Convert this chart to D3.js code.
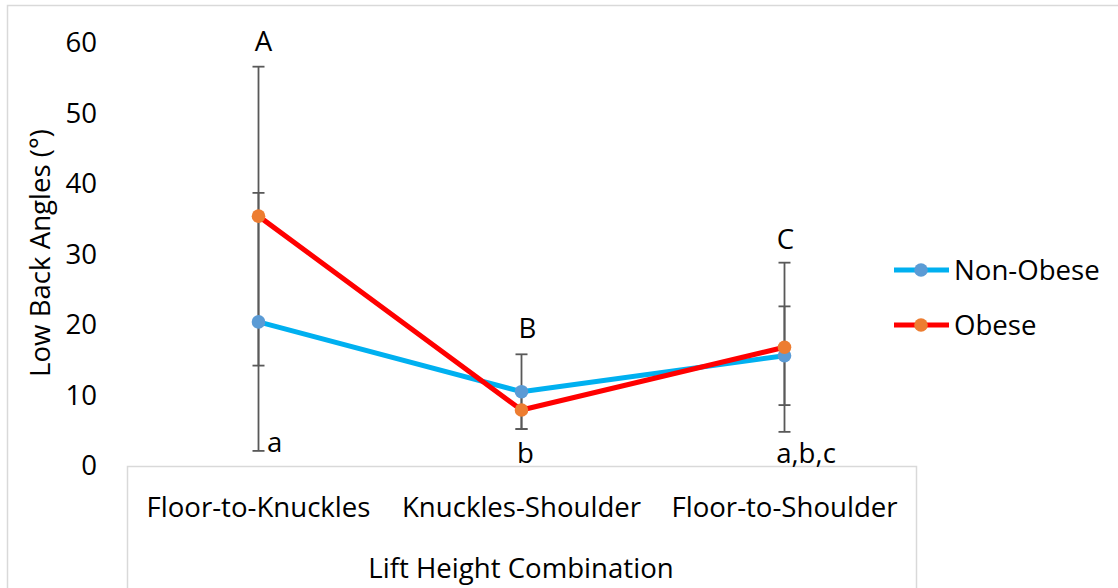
<!DOCTYPE html>
<html>
<head>
<meta charset="utf-8">
<script src="https://cdn.jsdelivr.net/npm/d3@7"></script>
<style>
  html, body { margin: 0; padding: 0; background: #fff; }
  svg { display: block; font-family: "Open Sans", Carlito, Calibri, sans-serif; }
</style>
</head>
<body>
<svg id="chart" width="1118" height="588"></svg>
<script>
// Lift height combinations on the category axis
const categories = ["Floor-to-Knuckles", "Knuckles-Shoulder", "Floor-to-Shoulder"];

// Mean low back angles (degrees) and their standard deviations
const nonObeseMeans = [20.3, 10.4, 15.5];
const nonObeseSD    = [18.3, 5.3, 7.0];
const obeseMeans    = [35.3, 7.8, 16.7];
const obeseSD       = [21.2, 2.7, 12.0];

// Significance letters above and below each group
const upperLetters = ["A", "B", "C"];
const lowerLetters = ["a", "b", "a,b,c"];

const yTicks = [0, 10, 20, 30, 40, 50, 60];

const seriesNames = ["Non-Obese", "Obese"];
const lineColors = ["#00B0F0", "#FF0000"];
const markerColors = ["#5B9BD5", "#ED7D31"];

const series = [
  { name: seriesNames[0], means: nonObeseMeans, sd: nonObeseSD, line: lineColors[0], marker: markerColors[0] },
  { name: seriesNames[1], means: obeseMeans, sd: obeseSD, line: lineColors[1], marker: markerColors[1] }
];

const svg = d3.select("#chart");
const FONT = 27.6;
const FAMILY = "\"Open Sans\", Carlito, Calibri, sans-serif";

// outer chart frame
svg.append("rect")
  .attr("x", 7.5).attr("y", 5.5)
  .attr("width", 1130).attr("height", 600)
  .attr("fill", "none").attr("stroke", "#d9d9d9").attr("stroke-width", 1.5);

const x = d3.scaleBand().domain(categories).range([127, 916]).padding(0);
const y = d3.scaleLinear().domain([0, 60]).range([465, 42]);
const cx = c => x(c) + x.bandwidth() / 2;

// y axis: labels only, no line or tick marks
const yAxis = svg.append("g")
  .attr("transform", "translate(99,0)")
  .call(d3.axisLeft(y).tickValues(yTicks).tickSize(0).tickPadding(2));
yAxis.select(".domain").remove();
yAxis.selectAll("text")
  .attr("font-size", FONT).attr("fill", "#000")
  .attr("font-family", FAMILY)
  .attr("dy", "0.36em");

// category axis drawn as an open table box
svg.append("path")
  .attr("d", `M127.5,${600}V466.5H916.5V${600}`)
  .attr("fill", "none").attr("stroke", "#d9d9d9").attr("stroke-width", 1.5);

const xAxis = svg.append("g")
  .attr("transform", "translate(0,466)")
  .call(d3.axisBottom(x).tickSize(0).tickPadding(0));
xAxis.select(".domain").remove();
xAxis.selectAll("text")
  .attr("font-size", FONT).attr("fill", "#000")
  .attr("font-family", FAMILY)
  .attr("dy", null).attr("y", 51);

// axis titles
svg.append("text")
  .attr("x", 521).attr("y", 578)
  .attr("text-anchor", "middle").attr("font-size", FONT)
  .text("Lift Height Combination");

svg.append("text")
  .attr("transform", "translate(50,253) rotate(-90)")
  .attr("text-anchor", "middle").attr("font-size", FONT)
  .text("Low Back Angles (°)");

// error bars
const capHalf = 6;
series.forEach(s => {
  const g = svg.append("g").attr("stroke", "#595959").attr("stroke-width", 1.8);
  categories.forEach((c, i) => {
    const top = y(s.means[i] + s.sd[i]);
    const bot = y(Math.max(0, s.means[i] - s.sd[i]));
    const px = cx(c);
    g.append("line").attr("x1", px).attr("x2", px).attr("y1", top).attr("y2", bot);
    g.append("line").attr("x1", px - capHalf).attr("x2", px + capHalf).attr("y1", top).attr("y2", top);
    g.append("line").attr("x1", px - capHalf).attr("x2", px + capHalf).attr("y1", bot).attr("y2", bot);
  });
});

// series lines and markers
const line = d3.line().x((d, i) => cx(categories[i])).y(d => y(d));
series.forEach(s => {
  svg.append("path")
    .attr("d", line(s.means))
    .attr("fill", "none").attr("stroke", s.line)
    .attr("stroke-width", 5).attr("stroke-linejoin", "round");
  svg.append("g").selectAll("circle")
    .data(s.means).join("circle")
    .attr("cx", (d, i) => cx(categories[i]))
    .attr("cy", d => y(d))
    .attr("r", 6.8)
    .attr("fill", s.marker);
});

// significance letters
const upperTop = categories.map((c, i) =>
  d3.max(series, s => s.means[i] + s.sd[i]));
const upperOffsets = [[5, -16], [6, -16], [1, -14]];
upperLetters.forEach((t, i) => {
  svg.append("text")
    .attr("x", cx(categories[i]) + upperOffsets[i][0])
    .attr("y", y(upperTop[i]) + upperOffsets[i][1])
    .attr("text-anchor", "middle").attr("font-size", FONT)
    .text(t);
});

const lowerX = [[267, "start"], [525.5, "middle"], [806, "middle"]];
const lowerY = [452, 463, 463];
lowerLetters.forEach((t, i) => {
  svg.append("text")
    .attr("x", lowerX[i][0]).attr("y", lowerY[i])
    .attr("text-anchor", lowerX[i][1]).attr("font-size", FONT)
    .text(t);
});

// legend
const legendY = [270, 325];
series.forEach((s, i) => {
  const g = svg.append("g").attr("transform", `translate(0,${legendY[i]})`);
  g.append("line").attr("x1", 894).attr("x2", 949).attr("y1", 0).attr("y2", 0)
    .attr("stroke", s.line).attr("stroke-width", 5);
  g.append("circle").attr("cx", 921).attr("cy", 0).attr("r", 6.8).attr("fill", s.marker);
  g.append("text").attr("x", 954).attr("y", 0).attr("dy", "0.36em")
    .attr("font-size", FONT).text(s.name);
});
</script>
</body>
</html>
